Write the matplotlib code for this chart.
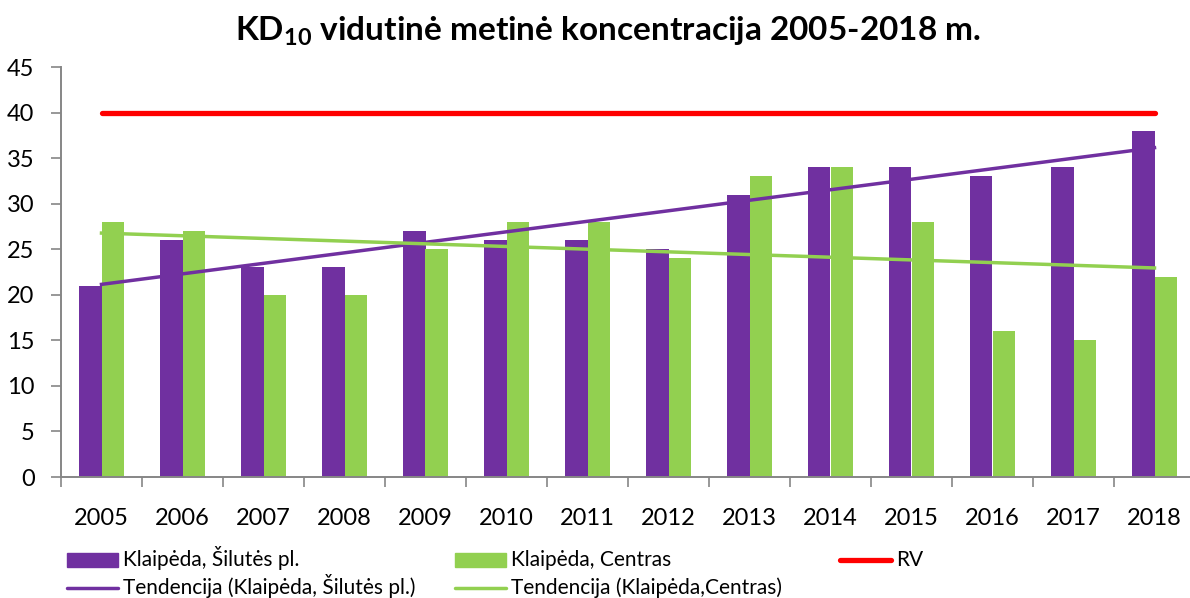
import numpy as np
import matplotlib
matplotlib.use("Agg")
import matplotlib.pyplot as plt
from matplotlib.patches import Rectangle
from matplotlib.lines import Line2D

plt.rcParams['font.family'] = ['Lato', 'DejaVu Sans']
plt.rcParams['mathtext.fontset'] = 'custom'
plt.rcParams['mathtext.rm'] = 'Lato'
plt.rcParams['mathtext.bf'] = 'Lato:bold'

# duomenys
years = ["2005", "2006", "2007", "2008", "2009", "2010", "2011",
         "2012", "2013", "2014", "2015", "2016", "2017", "2018"]
silutes = [21, 26, 23, 23, 27, 26, 26, 25, 31, 34, 34, 33, 34, 38]
centras = [28, 27, 20, 20, 25, 28, 28, 24, 33, 34, 28, 16, 15, 22]
rv_value = 40

c_purple = "#7030A0"
c_green = "#92D050"
c_red = "#FF0000"
c_axis = "#868686"

W, H = 1190, 598
fig = plt.figure(figsize=(W / 100, H / 100), dpi=100)
ax = fig.add_axes([61 / W, 1 - 477 / H, 1134 / W, 410 / H])

x = np.arange(len(years))
w = 0.28
ax.bar(x - w / 2, silutes, width=w, color=c_purple, zorder=2)
ax.bar(x + w / 2, centras, width=w, color=c_green, zorder=2)

# RV linija
ax.plot(x, [rv_value] * len(x), color=c_red, lw=3.8, solid_capstyle="round", zorder=3)

# tendencijos (tiesinė regresija)
p1 = np.polyfit(x, silutes, 1)
p2 = np.polyfit(x, centras, 1)
ax.plot(x, np.polyval(p1, x), color=c_purple, lw=2.5, zorder=4)
ax.plot(x, np.polyval(p2, x), color=c_green, lw=2.5, zorder=4)

ax.set_xlim(-0.5, len(years) - 0.5)
ax.set_ylim(0, 45)
ax.set_yticks(range(0, 50, 5))
ax.tick_params(axis="y", length=7, width=1.2, color=c_axis, labelsize=17, pad=12)

ax.set_xticks(np.arange(-0.5, len(years), 1))
ax.set_xticklabels([])
ax.tick_params(axis="x", which="major", length=7, width=1.2, color=c_axis)
ax.set_xticks(x, minor=True)
ax.set_xticklabels(years, minor=True)
ax.tick_params(axis="x", which="minor", length=0, labelsize=17, pad=22)

for s in ["top", "right"]:
    ax.spines[s].set_visible(False)
for s in ["left", "bottom"]:
    ax.spines[s].set_color(c_axis)
    ax.spines[s].set_linewidth(1.4)

fig.text(0.511, 0.948, r"KD$_{\mathbf{10}}$ vidutinė metinė koncentracija 2005-2018 m.",
         ha="center", va="center", fontsize=24, fontweight="bold")

# legenda - rankiniu būdu (px koordinatės)
def leg_entry(px, py, kind, color, label, lw=2.5):
    x0, x1 = px / W, (px + 51) / W
    yc = 1 - py / H
    if kind == "patch":
        fig.add_artist(Rectangle((x0, yc - 7 / H), 51 / W, 14 / H,
                                 transform=fig.transFigure, color=color))
    else:
        fig.add_artist(Line2D([x0, x1], [yc, yc], transform=fig.transFigure,
                              color=color, lw=lw, solid_capstyle="round"))
    fig.text((px + 56) / W, 1 - (py + 6) / H, label, fontsize=15,
             ha="left", va="baseline")

leg_entry(67, 560, "patch", c_purple, "Klaipėda, Šilutės pl.")
leg_entry(455, 560, "patch", c_green, "Klaipėda, Centras")
leg_entry(840, 560, "line", c_red, "RV", lw=3.8)
leg_entry(67, 588, "line", c_purple, "Tendencija (Klaipėda, Šilutės pl.)")
leg_entry(455, 588, "line", c_green, "Tendencija (Klaipėda,Centras)")

fig.savefig("out.png", dpi=100)
